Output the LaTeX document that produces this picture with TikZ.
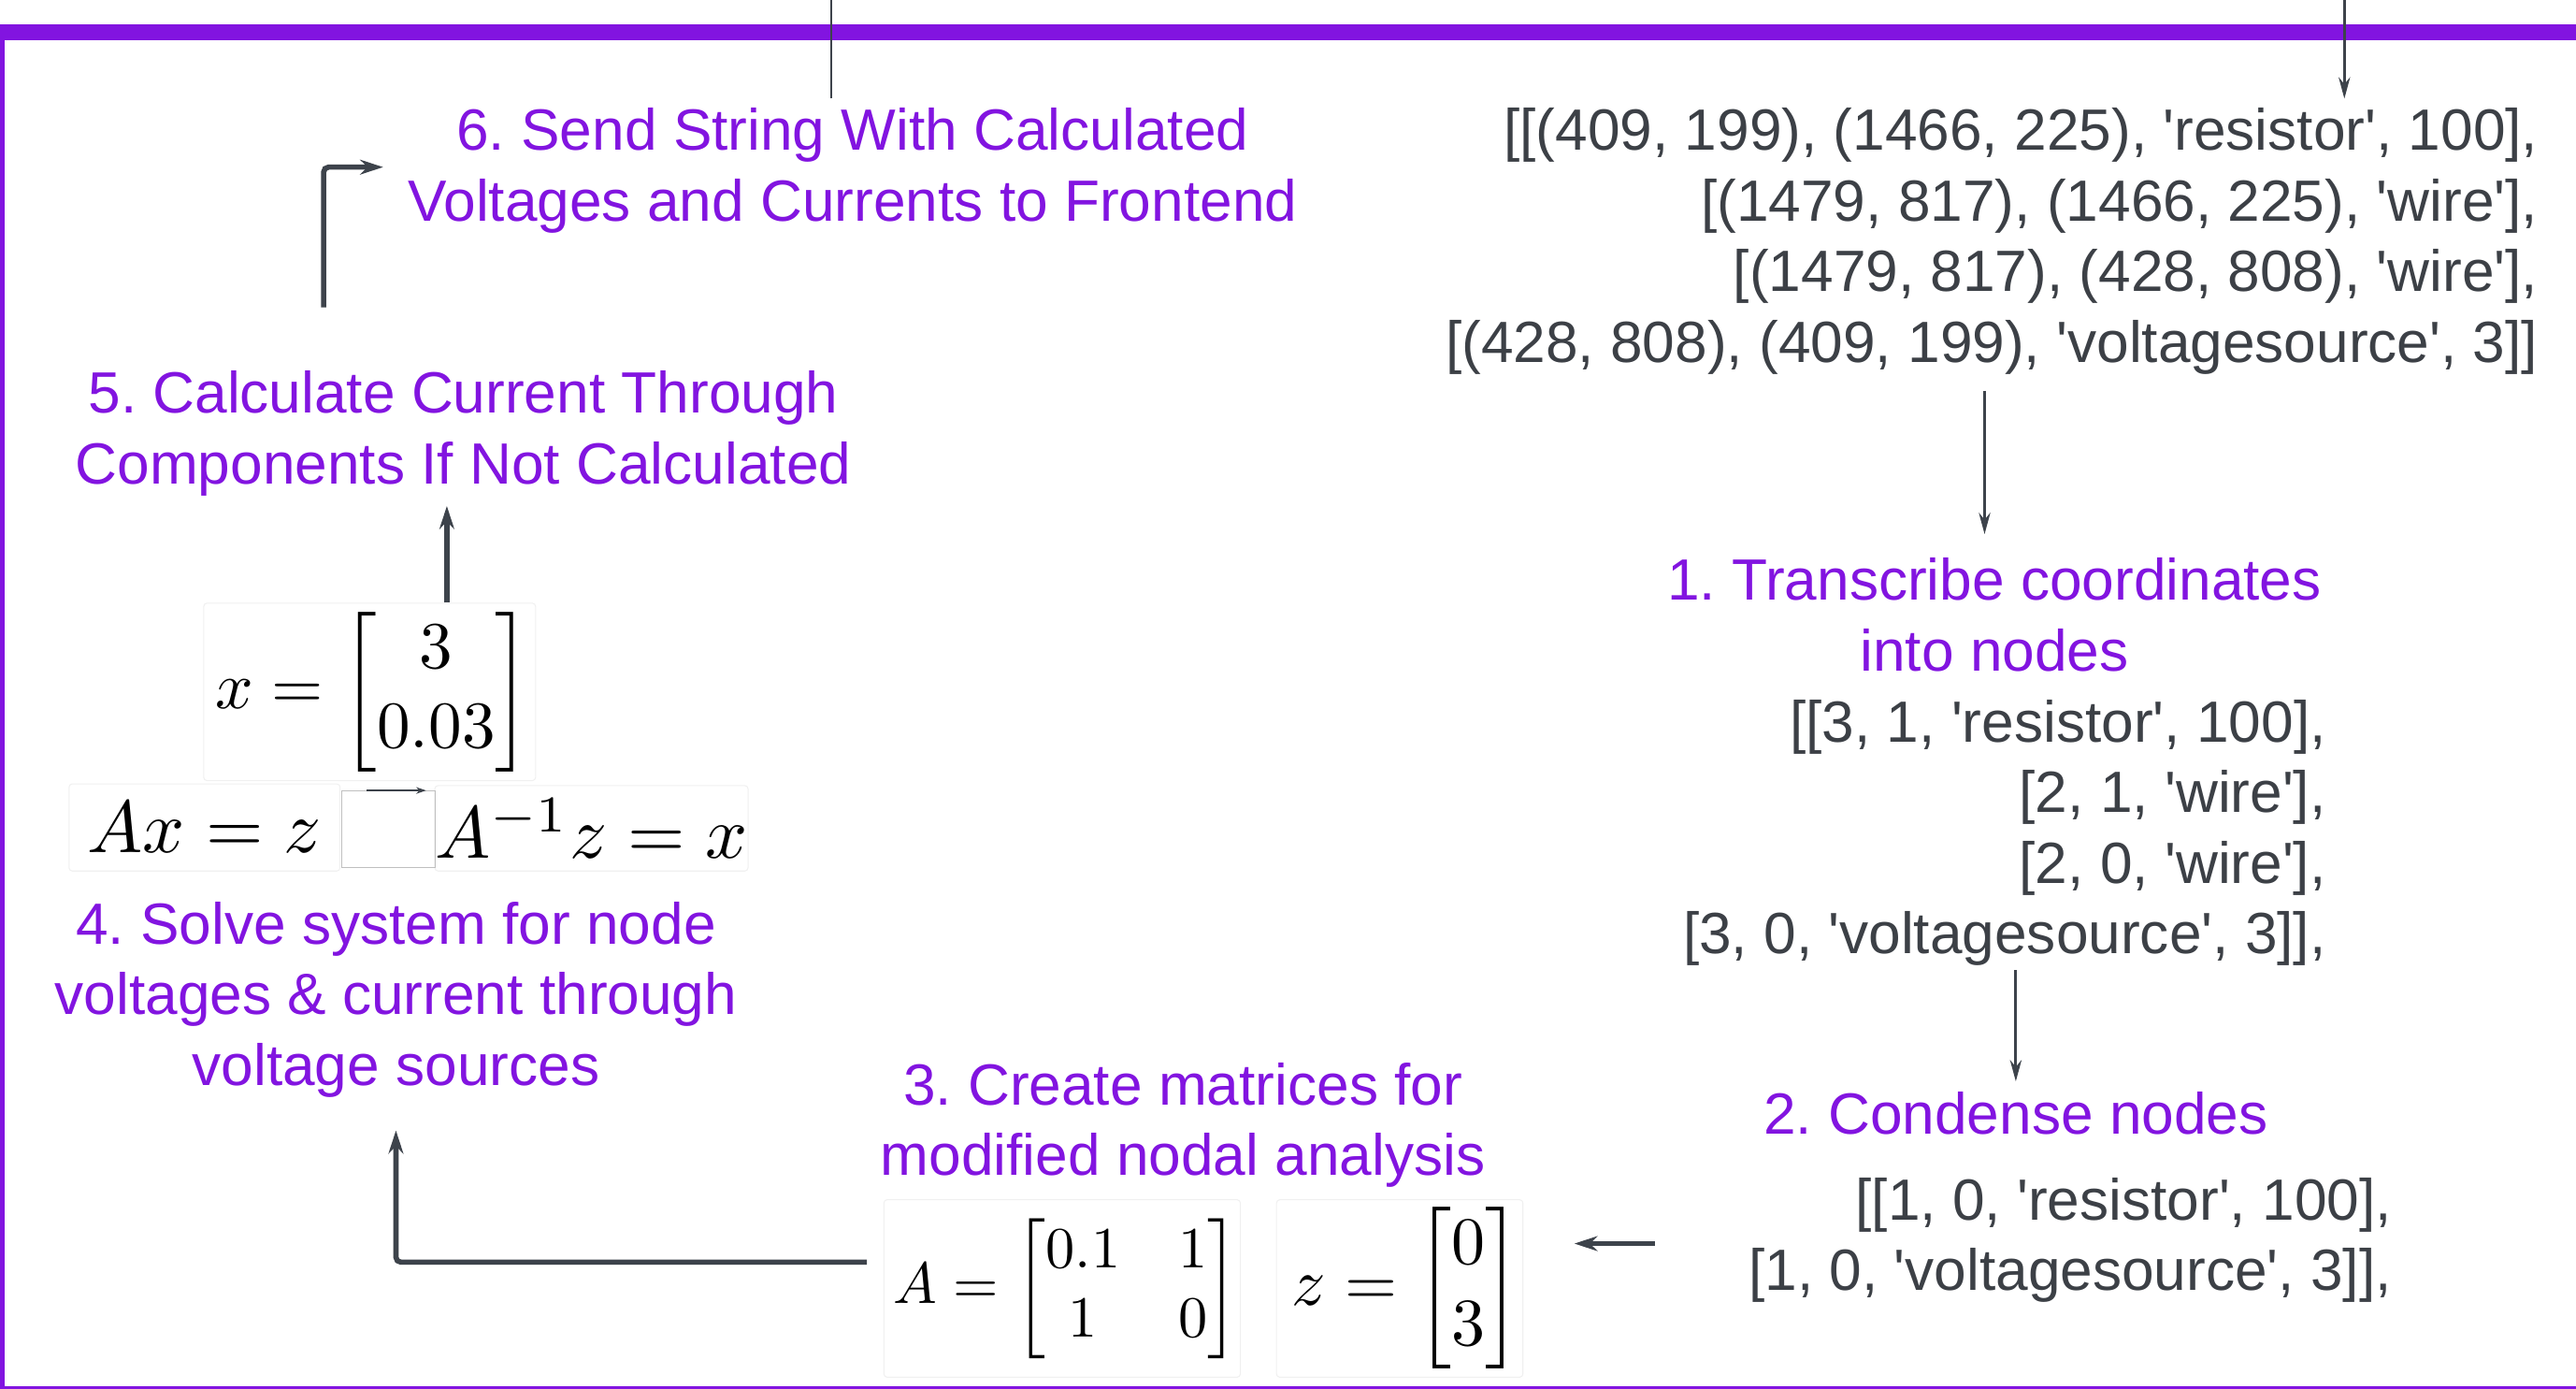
\documentclass[tikz,border=0pt]{standalone}
\usepackage{amsmath}
\usepackage[no-math]{fontspec}
\setmainfont{Liberation Sans}[Ligatures=TeXOff]
\usetikzlibrary{arrows.meta,calc}
\definecolor{pur}{HTML}{8214E0}
\definecolor{txtgray}{HTML}{3C4046}
\definecolor{arrgray}{HTML}{3D434B}
\frenchspacing
\begin{document}
\begin{tikzpicture}[x=1pt,y=-1pt,
  titletext/.style={text=pur, align=center, font=\fontsize{35.4}{43}\selectfont, inner sep=0pt},
  codetext/.style={text=txtgray, align=right, font=\fontsize{35.4}{43}\selectfont, inner sep=0pt},
  mbox/.style={draw=black!6, fill=white, rounded corners=2pt, inner sep=0pt, line width=0.6pt},
  thickarr/.style={draw=arrgray, line width=3.2pt, -{Stealth[length=14pt,width=9pt]}},
  thinarr/.style={draw=arrgray, line width=1.6pt, -{Stealth[length=13pt,width=7pt]}},
  thinline/.style={draw=arrgray, line width=1.4pt},
  smallarr/.style={draw=arrgray, line width=1.1pt, -{Stealth[length=6pt,width=4pt]}}]
\useasboundingbox (0,0) rectangle (1568,845);
% frame
\fill[pur] (0,15) rectangle (1568,24.3);
\fill[pur] (0,24) rectangle (2.8,845);
\fill[pur] (0,843.5) rectangle (1568,845);

% texts
\node[titletext, anchor=north] (s6) at (519,65.5) {6. Send String With Calculated\\Voltages and Currents to Frontend};
\node[codetext, anchor=north east] (l0) at (1545,65.5) {[[(409, 199), (1466, 225), 'resistor', 100],\\\relax[(1479, 817), (1466, 225), 'wire'],\\\relax[(1479, 817), (428, 808), 'wire'],\\\relax[(428, 808), (409, 199), 'voltagesource', 3]]};
\node[titletext, anchor=north] (s1) at (1214,339.5) {1. Transcribe coordinates\\into nodes};
\node[codetext, anchor=north east] (l1) at (1416,425.5) {[[3, 1, 'resistor', 100],\\\relax[2, 1, 'wire'],\\\relax[2, 0, 'wire'],\\\relax[3, 0, 'voltagesource', 3]],};
\node[titletext, anchor=north] (s2) at (1227,664.5) {2. Condense nodes};
\node[codetext, anchor=north east] (l2) at (1456,716.5) {[[1, 0, 'resistor', 100],\\\relax[1, 0, 'voltagesource', 3]],};
\node[titletext, anchor=north] (s3) at (720,646.5) {3. Create matrices for\\modified nodal analysis};
\node[titletext, anchor=north] (s4) at (241,548.5) {4. Solve system for node\\voltages \& current through\\voltage sources};
\node[titletext, anchor=north] (s5) at (282,225.5) {5. Calculate Current Through\\Components If Not Calculated};

% math boxes
\node[mbox, minimum width=202pt, minimum height=108pt] (xb) at (225,421) {\hspace*{4pt}\scalebox{4.05}{$x = \begin{bmatrix}3\\0.03\end{bmatrix}$}};
\node[mbox, minimum width=165pt, minimum height=53pt] (axz) at (124.5,503.5) {\scalebox{4.5}{$Ax = z$}};
\node[mbox, minimum width=190pt, minimum height=52pt] (ainv) at (360,504) {\scalebox{4.5}{$A^{-1}z = x$}};
\node[draw=black!25, line width=0.5pt, minimum width=57pt, minimum height=47pt, inner sep=0pt] (gap) at (236.5,504.5) {};
\node[mbox, minimum width=217pt, minimum height=108pt] (Ab) at (646.5,784) {\hspace*{5pt}\scalebox{3.55}{$A = \begin{bmatrix}0.1 & 1\\1 & 0\end{bmatrix}$}};
\node[mbox, minimum width=150pt, minimum height=108pt] (zb) at (852,784) {\hspace*{8pt}\scalebox{4.1}{$z = \begin{bmatrix}0\\3\end{bmatrix}$}};

% connectors
\coordinate (tin) at (1427,0);
\coordinate (tout) at (506,0);
\draw[thinarr, shorten >=5.5pt] (tin) -- (tin |- l0.north);
\draw[thinline, shorten <=5.5pt] (s6.north -| tout) -- (tout);
\coordinate (s1in) at ($(s1.north)+(-6pt,0)$);
\draw[thinarr, shorten <=10pt, shorten >=14.5pt] (s1in |- l0.south) -- (s1in);
\draw[thinarr, shorten <=2.5pt, shorten >=6.5pt] (s2.north |- l1.south) -- (s2.north);
\draw[thickarr, shorten <=57pt, shorten >=31pt] ($(l2.west)+(0,-2pt)$) -- ($(l2.west -| zb.east)+(0,-2pt)$);
\draw[thickarr, rounded corners=3pt, shorten >=20pt] ($(Ab.west)+(-10pt,16pt)$) -| (s4.south);
\coordinate (xa) at ($(xb.north)+(47pt,0)$);
\draw[thickarr, shorten >=6pt] (xa) -- (xa |- s5.south);
\draw[thickarr, rounded corners=3pt, shorten >=15pt] ($(s5.north)+(-85pt,38.5pt)$) |- ($(s6.west)+(0,2pt)$);
\draw[smallarr] ($(axz.east)+(16pt,22.5pt)$) -- ($(ainv.west)+(-5pt,23pt)$);
\end{tikzpicture}
\end{document}
